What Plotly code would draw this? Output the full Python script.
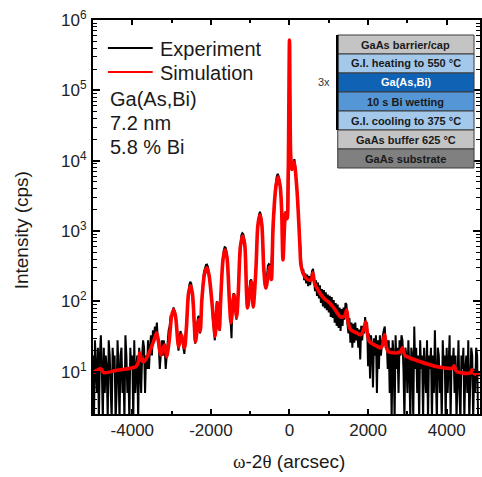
import numpy as np
import plotly.graph_objects as go

# ---------------- data ----------------
scan_start = -5000      # arcsec
scan_step = 25          # arcsec
# measured intensity (cps), one row = 100 arcsec, row start in comment
exp_y = [
    17, 2, 28, 11,        # -5000
    5, 22, 2, 17,         # -4900
    33, 11, 2, 22,        # -4800
    5, 17, 11, 2,         # -4700
    28, 17, 5, 2,         # -4600
    22, 11, 17, 2,        # -4500
    5, 28, 11, 2,         # -4400
    17, 22, 5, 11,        # -4300
    2, 33, 17, 5,         # -4200
    11, 2, 22, 11,        # -4100
    17, 2, 28, 5,         # -4000
    11, 17, 2, 22,        # -3900
    11, 5, 17, 28,        # -3800
    22, 5, 17, 11,        # -3700
    28, 11, 22, 33,       # -3600
    17, 39, 28, 44,       # -3500
    33, 50, 28, 22,       # -3400
    11, 17, 28, 17,       # -3300
    28, 22, 11, 17,       # -3200
    28, 39, 44, 61,       # -3100
    60, 72, 82, 72,       # -3000
    66, 45, 28, 20,       # -2900
    28, 38, 33, 28,       # -2800
    22, 18, 30, 50,       # -2700
    70, 135, 170, 190,    # -2600
    180, 140, 85, 45,     # -2500
    25, 38, 48, 60,       # -2400
    62, 35, 65, 125,      # -2300
    195, 265, 300, 330,   # -2200
    335, 310, 255, 180,   # -2100
    145, 95, 55, 35,      # -2000
    28, 65, 100, 95,      # -1900
    50, 38, 115, 240,     # -1800
    380, 520, 590, 580,   # -1700
    500, 340, 185, 90,    # -1600
    50, 30, 100, 130,     # -1500
    125, 85, 55, 95,      # -1400
    160, 360, 660, 870,   # -1300
    930, 900, 760, 480,   # -1200
    175, 85, 100, 160,    # -1100
    195, 205, 160, 80,    # -1000
    120, 220, 340, 760,   # -900
    1400, 1720, 1880, 1650,   # -800
    1300, 700, 280, 170,  # -700
    150, 240, 320, 340,   # -600
    330, 240, 420, 1100,  # -500
    1850, 3000, 4600, 5900,   # -400
    6500, 6000, 5100, 4100,   # -300
    2300, 650, 420, 1300,     # -200
    1900, 1500, 2500, 25000,  # -100
    520000, 30000, 7500, 8500,  # 0
    10000, 10500, 8000, 5500,   # 100
    3200, 1700, 900, 550,  # 200
    360, 250, 290, 200,    # 300
    250, 180, 240, 165,    # 400
    230, 170, 235, 270,    # 500
    290, 215, 140, 200,    # 600
    120, 185, 110, 170,    # 700
    95, 150, 85, 145,      # 800
    80, 135, 75, 125,      # 900
    70, 120, 60, 115,      # 1000
    58, 105, 50, 95,       # 1100
    45, 90, 42, 82,        # 1200
    38, 78, 45, 82,        # 1300
    55, 95, 90, 48,        # 1400
    35, 58, 26, 50,        # 1500
    22, 48, 26, 50,        # 1600
    28, 42, 22, 40,        # 1700
    15, 45, 28, 45,        # 1800
    35, 60, 40, 50,        # 1900
    12, 35, 8, 33,         # 2000
    22, 6, 30, 17,         # 2100
    33, 5, 28, 11,         # 2200
    33, 17, 28, 33,        # 2300
    39, 44, 22, 28,        # 2400
    11, 28, 5, 22,         # 2500
    2, 28, 17, 2,          # 2600
    33, 11, 22, 5,         # 2700
    28, 17, 33, 28,        # 2800
    11, 2, 22, 17,         # 2900
    5, 28, 11, 2,          # 3000
    22, 17, 2, 44,         # 3100
    11, 22, 5, 17,         # 3200
    2, 28, 11, 17,         # 3300
    2, 22, 11, 5,          # 3400
    28, 2, 17, 11,         # 3500
    22, 2, 17, 5,          # 3600
    39, 11, 2, 22,         # 3700
    17, 5, 11, 2,          # 3800
    28, 11, 17, 2,         # 3900
    22, 5, 11, 33,         # 4000
    2, 17, 11, 22,         # 4100
    5, 17, 2, 11,          # 4200
    28, 5, 2, 17,          # 4300
    11, 22, 2, 11,         # 4400
    17, 5, 28, 2,          # 4500
    11, 22, 17, 2,         # 4600
    11, 5, 22, 17,         # 4700
    2,                     # 4800
]
assert len(exp_y) == 393, len(exp_y)
exp_x = scan_start + scan_step * np.arange(len(exp_y))

# simulated curve (arcsec, cps)
sim_x = [
    -5000, -4900, -4800, -4720, -4400, -3912, -3850, -3811, -3760, -3709,
    -3633, -3550, -3450, -3380, -3320, -3279, -3178, -3127, -3060, -3000,
    -2950, -2900, -2850, -2823, -2747, -2671, -2620, -2570, -2519, -2470,
    -2420, -2393, -2310, -2270, -2230, -2160, -2105, -2050, -1979, -1918,
    -1892, -1834, -1784, -1751, -1690, -1640, -1590, -1531, -1488, -1412,
    -1346, -1303, -1250, -1194, -1140, -1093, -1068, -967, -923, -855,
    -805, -754, -705, -653, -602, -501, -460, -417, -345, -291,
    -236, -200, -165, -100, -60, -30, 0, 30, 60, 115,
    190, 266, 291, 350, 418, 500, 560, 595, 640, 696,
    800, 900, 1025, 1150, 1304, 1400, 1456, 1500, 1557, 1700,
    1810, 1890, 1937, 1990, 2038, 2200, 2317, 2380, 2418, 2470,
    2519, 2747, 2830, 2874, 2930, 3000, 3330, 3760, 4150, 4190,
    4230, 4266, 4600, 4646, 4700, 4848]
sim_y = [
    9.7, 10.5, 11.0, 9.7, 10.5, 11.8, 13.5, 18.6, 14.5, 13.9,
    15.8, 20, 28, 35.8, 24, 17.4, 24.2, 16.3, 28, 62,
    76, 62, 30, 22.6, 33.6, 21.9, 45, 130, 167, 130,
    45, 26.7, 55, 38, 105, 250, 300, 240, 105, 43,
    32, 96, 40, 105, 400, 540, 420, 105, 50, 123,
    60, 132, 600, 850, 650, 132, 81, 190, 84, 280,
    1200, 1700, 1250, 280, 155, 310, 205, 1200, 4300, 5900,
    4300, 2000, 390, 1800, 1500, 8000, 520000, 12000, 7500, 9600,
    3850, 600, 330, 250, 216, 200, 208, 255, 180, 156,
    125, 108, 95, 78, 60, 62, 76, 48, 39.5, 36,
    33.6, 40, 51, 33, 26.7, 23.5, 21.9, 25, 33.6, 22,
    19.2, 18.6, 19.5, 21.9, 17.5, 16.3, 13.9, 11.8, 11.3, 12.2,
    10.6, 10, 9.6, 10.7, 9.4, 9.0]
assert len(sim_x) == len(sim_y), (len(sim_x), len(sim_y))

x_tickvals = [-4000, -2000, 0, 2000, 4000]
x_ticktext = ["-4000", "-2000", "0", "2000", "4000"]
y_tickvals = [1e1, 1e2, 1e3, 1e4, 1e5, 1e6]
y_ticktext = ["10<sup>1</sup>", "10<sup>2</sup>", "10<sup>3</sup>",
              "10<sup>4</sup>", "10<sup>5</sup>", "10<sup>6</sup>"]

legend_names = ["Experiment", "Simulation"]
sample_info = ["Ga(As,Bi)", "7.2 nm", "5.8 % Bi"]

layer_labels = ["GaAs barrier/cap", "G.I. heating to 550 °C", "Ga(As,Bi)",
                "10 s Bi wetting", "G.I. cooling to 375 °C",
                "GaAs buffer 625 °C", "GaAs substrate"]
layer_colors = ["#c4c4c4", "#a3c8ea", "#0f62b4", "#5597d6", "#a3c8ea",
                "#c4c4c4", "#808080"]
layer_text_colors = ["#1a1a1a", "#1a1a1a", "#ffffff", "#1a1a1a", "#1a1a1a",
                     "#1a1a1a", "#1a1a1a"]
repeat_label = "3x"

# ---------------- layout helpers ----------------
W, H = 482, 477
L, R, T, B = 93, 0, 20, 63
PW, PH = W - L - R, H - T - B


def fx(p):
    return (p - L) / PW


def fy(p):
    return (H - B - p) / PH


FONT = "Liberation Sans, Arial, sans-serif"

fig = go.Figure()
fig.add_trace(go.Scatter(x=exp_x, y=exp_y, mode="lines", name=legend_names[0],
                         line=dict(color="black", width=2.0), showlegend=False))
fig.add_trace(go.Scatter(x=sim_x, y=sim_y, mode="lines", name=legend_names[1],
                         line=dict(color="#ff0000", width=3.6, shape="spline",
                                   smoothing=0.8), showlegend=False))

shapes = []
annotations = []

# legend
for i, (name, col) in enumerate(zip(legend_names, ["black", "#ff0000"])):
    yc = 48 + 24 * i
    shapes.append(dict(type="line", xref="paper", yref="paper",
                       x0=fx(108), x1=fx(153), y0=fy(yc), y1=fy(yc),
                       line=dict(color=col, width=2)))
    annotations.append(dict(xref="paper", yref="paper", x=fx(158), y=fy(yc + 1),
                            text=name, showarrow=False, xanchor="left",
                            yanchor="middle",
                            font=dict(family=FONT, size=20, color="#1a1a1a")))
for i, t in enumerate(sample_info):
    yc = 99 + 24 * i
    annotations.append(dict(xref="paper", yref="paper", x=fx(108), y=fy(yc),
                            text=t, showarrow=False, xanchor="left",
                            yanchor="middle",
                            font=dict(family=FONT, size=20, color="#1a1a1a")))

# layer stack
bx0, bx1 = 339, 476
by0, bh = 35, 19
for i, (lab, col, tc) in enumerate(zip(layer_labels, layer_colors, layer_text_colors)):
    y0 = by0 + bh * i
    y1 = y0 + bh
    shapes.append(dict(type="rect", xref="paper", yref="paper",
                       x0=fx(bx0), x1=fx(bx1), y0=fy(y1), y1=fy(y0),
                       fillcolor=col, line=dict(color="#3a3a3a", width=1)))
    annotations.append(dict(xref="paper", yref="paper", x=fx((bx0 + bx1) / 2),
                            y=fy((y0 + y1) / 2), text="<b>%s</b>" % lab,
                            showarrow=False, xanchor="center", yanchor="middle",
                            font=dict(family=FONT, size=11, color=tc)))
shapes.append(dict(type="line", xref="paper", yref="paper",
                   x0=fx(338.5), x1=fx(338.5), y0=fy(by0 + bh * 5), y1=fy(by0),
                   line=dict(color="black", width=2.5)))
annotations.append(dict(xref="paper", yref="paper", x=fx(325), y=fy(82),
                        text=repeat_label, showarrow=False, xanchor="center",
                        yanchor="middle",
                        font=dict(family=FONT, size=11, color="#333333")))

# axis titles
annotations.append(dict(xref="paper", yref="paper", x=fx(22), y=fy(230),
                        text="Intensity (cps)", textangle=-90, showarrow=False,
                        xanchor="center", yanchor="middle",
                        font=dict(family=FONT, size=19, color="#1a1a1a")))
annotations.append(dict(xref="paper", yref="paper", x=fx(290), y=fy(462),
                        text="<span style=\"font-family:'Liberation Serif'\">ω</span>-2"
                             "<span style=\"font-family:'Liberation Serif'\">θ</span> (arcsec)",
                        showarrow=False, xanchor="center", yanchor="middle",
                        font=dict(family=FONT, size=19, color="#1a1a1a")))

fig.update_layout(
    width=W, height=H,
    margin=dict(l=L, r=R, t=T, b=B, pad=0),
    paper_bgcolor="white", plot_bgcolor="white",
    shapes=shapes, annotations=annotations,
    showlegend=False,
    xaxis=dict(range=[-5000, 4848], tickvals=x_tickvals, ticktext=x_ticktext,
               ticks="inside", ticklen=5, tickwidth=1.5, tickcolor="black",
               showline=True, linewidth=2, linecolor="black", mirror="allticks",
               showgrid=False, zeroline=False,
               minor=dict(dtick=1000, ticks="inside", ticklen=3, tickwidth=1.5,
                          tickcolor="black", showgrid=False),
               tickfont=dict(family=FONT, size=17, color="#222222"),
               ticklabelstandoff=0),
    yaxis=dict(type="log", range=[0.4, 6], tickvals=y_tickvals,
               ticktext=y_ticktext,
               ticks="inside", ticklen=7, tickwidth=1.5, tickcolor="black",
               showline=True, linewidth=2, linecolor="black", mirror="allticks",
               showgrid=False, zeroline=False,
               minor=dict(dtick="D1", ticks="inside", ticklen=4, tickwidth=1,
                          tickcolor="black", showgrid=False),
               tickfont=dict(family=FONT, size=17, color="#222222"),
               ticklabelstandoff=1),
)

fig.write_html("out.html")
